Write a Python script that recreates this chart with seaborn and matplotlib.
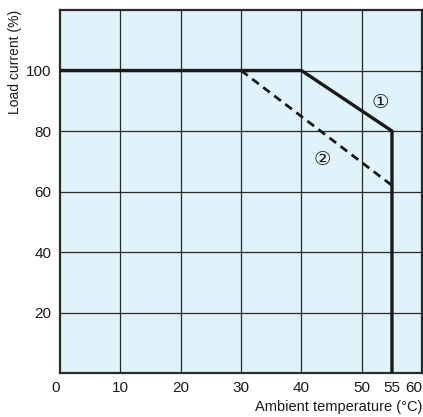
import matplotlib
matplotlib.use("Agg")
import matplotlib.pyplot as plt
import pandas as pd
import seaborn as sns

# derating curves (ambient temperature in degC, load current in %)
temp_1 = [0, 40, 55, 55]
load_1 = [100, 100, 80, 0]
temp_2 = [30, 55]
load_2 = [100, 62]

x_ticks = [0, 10, 20, 30, 40, 50, 55, 60]
y_ticks = [20, 40, 60, 80, 100]
grid_x = [10, 20, 30, 40, 50]

sns.set_theme(style="white")
plt.rcParams["font.family"] = ["Liberation Sans", "DejaVu Sans"]

df1 = pd.DataFrame({"temp": temp_1, "load": load_1})
df2 = pd.DataFrame({"temp": temp_2, "load": load_2})

fig = plt.figure(figsize=(4.23, 4.17), dpi=100)
ax = fig.add_axes([0.142, 0.1055, 0.856, 0.8705])
ax.set_facecolor("#e0f3fb")

for gx in grid_x:
    ax.axvline(gx, color="#2a2a2a", lw=0.9, zorder=1)
for gy in y_ticks:
    ax.axhline(gy, color="#2a2a2a", lw=0.9, zorder=1)

sns.lineplot(data=df1, x="temp", y="load", sort=False, estimator=None,
             color="#1a1a1a", lw=2.4, ax=ax, zorder=3)
sns.lineplot(data=df2, x="temp", y="load", sort=False, estimator=None,
             color="#1a1a1a", lw=2.0, ax=ax, zorder=3, linestyle=(0, (3, 2)))

ax.text(53, 89.5, "①", fontsize=14, ha="center", va="center",
        family=["DejaVu Sans"], color="#1a1a1a")
ax.text(43.4, 70.5, "②", fontsize=14, ha="center", va="center",
        family=["DejaVu Sans"], color="#1a1a1a")

ax.set_xlim(0, 60)
ax.set_ylim(0, 120)
ax.set_xticks(x_ticks)
ax.set_xticklabels([str(t) for t in x_ticks])
ax.set_yticks(y_ticks)
ax.set_yticklabels([str(t) for t in y_ticks])
ax.tick_params(axis="both", length=0, labelsize=11, colors="#1a1a1a", pad=6)
ax.get_xticklabels()[0].set_ha("right")
ax.get_xticklabels()[-1].set_ha("right")

for side in ["left", "bottom", "top", "right"]:
    ax.spines[side].set_color("#2a2a2a")
    ax.spines[side].set_linewidth(1.6)

ax.set_xlabel("")
ax.set_ylabel("")
fig.text(0.035, 0.976, "Load current (%)", rotation=90, ha="center", va="top",
         fontsize=10, color="#1a1a1a")
fig.text(0.998, 0.006, "Ambient temperature (\u00b0C)", ha="right", va="bottom",
         fontsize=10.5, color="#1a1a1a")

fig.savefig("out.png", dpi=100)
